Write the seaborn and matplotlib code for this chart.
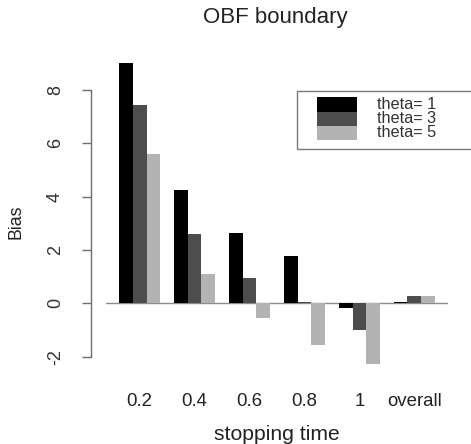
import matplotlib
matplotlib.use("Agg")
import matplotlib.pyplot as plt
from matplotlib.patches import Rectangle
import seaborn as sns
import pandas as pd

stops = ["0.2", "0.4", "0.6", "0.8", "1", "overall"]
theta_labels = ["theta= 1", "theta= 3", "theta= 5"]
theta1 = [8.99, 4.26, 2.63, 1.79, -0.16, 0.04]
theta3 = [7.43, 2.60, 0.96, 0.05, -0.98, 0.29]
theta5 = [5.59, 1.10, -0.56, -1.56, -2.29, 0.29]
colors = ["#000000", "#4d4d4d", "#b3b3b3"]
yticks = [-2, 0, 2, 4, 6, 8]

sns.set_style("white")
plt.rcParams["font.family"] = ["Liberation Sans", "DejaVu Sans"]

rows = []
for lab, vals in zip(theta_labels, [theta1, theta3, theta5]):
    for s, v in zip(stops, vals):
        rows.append({"stop": s, "theta": lab, "bias": v})
df = pd.DataFrame(rows)

W, H = 471, 444
fig = plt.figure(figsize=(W / 100, H / 100), dpi=100)
ax = fig.add_axes([106.4 / W, (H - 376.5) / H, 341.2 / W, 325.2 / H])

sns.barplot(data=df, x="stop", y="bias", hue="theta", order=stops,
            hue_order=theta_labels, palette=colors, width=0.75,
            saturation=1, linewidth=0, errorbar=None, ax=ax, legend=False)

ax.set_xlim(-0.605, 5.605)
ax.set_ylim(-2.74, 9.44)
ax.axhline(0, color="#8c8c8c", lw=1, zorder=0)

for s in ["top", "right", "bottom"]:
    ax.spines[s].set_visible(False)
ax.spines["left"].set_position(("outward", 11.1))
ax.spines["left"].set_bounds(-2, 8)
ax.spines["left"].set_color("#6e6e6e")
ax.spines["left"].set_linewidth(1)

ax.set_yticks(yticks)
ax.set_yticklabels([str(t) for t in yticks])
ax.tick_params(axis="y", length=6.5, width=1, color="#6e6e6e", pad=13,
               labelsize=13, labelcolor="#333333", labelrotation=90, left=True)
for t in ax.get_yticklabels():
    t.set_va("center")
ax.tick_params(axis="x", length=0, pad=12, labelsize=13.4, labelcolor="#222222")

ax.set_xlabel("stopping time", fontsize=15.2, color="#222222")
ax.xaxis.set_label_coords(0.5, -(440.3 - 376.5) / 325.2)
ax.xaxis.label.set_va("baseline")
ax.set_ylabel("Bias", fontsize=12.8, color="#222222")
ax.yaxis.set_label_coords(-(106.4 - 16) / 341.2, (376.5 - 222) / 325.2)
ax.yaxis.label.set_va("center")

fig.text(275 / W, 1 - 17 / H, "OBF boundary", ha="center", va="center",
         fontsize=16, color="#222222")

# legend box
def fx(x):
    return x / W

def fy(y):
    return 1 - y / H

fig.add_artist(Rectangle((fx(297), fy(149)), fx(480) - fx(297), fy(90.7) - fy(149),
                         transform=fig.transFigure, fill=False,
                         edgecolor="#7a7a7a", lw=1))
row_h = (140 - 97.3) / 3
for i, (lab, c) in enumerate(zip(theta_labels, colors)):
    top = 97.3 + i * row_h
    fig.add_artist(Rectangle((fx(317), fy(top + row_h)), fx(357) - fx(317),
                             fy(top) - fy(top + row_h), transform=fig.transFigure,
                             facecolor=c, edgecolor="none"))
    fig.text(fx(377), fy(top + row_h / 2), lab, ha="left", va="center",
             fontsize=11.7, color="#333333")

fig.savefig("out.png", dpi=100)
